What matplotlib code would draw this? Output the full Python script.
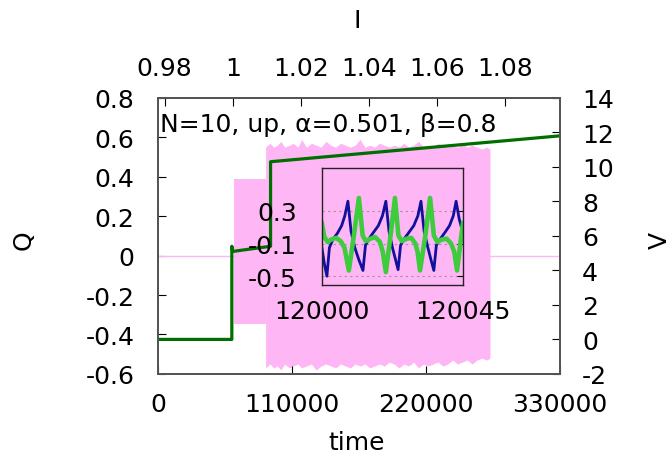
import numpy as np
import matplotlib
matplotlib.use("Agg")
import matplotlib.pyplot as plt

plt.rcParams['font.family'] = ['DejaVu Sans']
plt.rcParams['axes.unicode_minus'] = False

# --- main plot data ---
# Q oscillation envelope (pink), first plateau then larger band
band1_t = [62200, 88400]
band1_hi = [0.39, 0.39]
band1_lo = [-0.345, -0.345]

band2_t = [88400, 92000, 95000, 98000, 101000, 104000, 108000, 111000,
           115000, 118000, 122000, 126000, 130000, 134000, 138000, 142000,
           146000, 150000, 154000, 158000, 162000, 166000, 170000, 174000,
           178000, 182000, 186000, 190000, 194000, 198000, 202000, 206000,
           210000, 214000, 218000, 222000, 226000, 230000, 234000, 238000,
           242000, 246000, 250000, 254000, 258000, 262000, 266000, 270000,
           272700]
band2_hi = [0.55, 0.57, 0.55, 0.56, 0.58, 0.55, 0.56, 0.57, 0.55, 0.59,
            0.55, 0.57, 0.56, 0.55, 0.58, 0.56, 0.55, 0.57, 0.56, 0.55,
            0.56, 0.59, 0.55, 0.56, 0.55, 0.57, 0.56, 0.55, 0.56, 0.55,
            0.57, 0.55, 0.56, 0.58, 0.55, 0.56, 0.55, 0.57, 0.56, 0.55,
            0.56, 0.55, 0.57, 0.55, 0.56, 0.55, 0.54, 0.55, 0.54]
band2_lo = [-0.57, -0.55, -0.57, -0.56, -0.58, -0.55, -0.57, -0.56, -0.55,
            -0.57, -0.56, -0.55, -0.58, -0.56, -0.55, -0.56, -0.57, -0.55,
            -0.56, -0.57, -0.55, -0.56, -0.55, -0.57, -0.56, -0.55, -0.56,
            -0.54, -0.55, -0.57, -0.55, -0.56, -0.54, -0.57, -0.55, -0.56,
            -0.55, -0.54, -0.56, -0.55, -0.53, -0.55, -0.54, -0.53, -0.55,
            -0.53, -0.52, -0.53, -0.52]

q_line_t = [0, 330000]
q_line = [0, 0]

# V (right axis), dark green
v_t = [0, 60700, 60700, 61500, 92500, 92500, 330000]
v_val = [0, 0, 5.4, 5.1, 5.4, 10.3, 11.8]

# top axis I ticks
i_ticks = [0.98, 1.0, 1.02, 1.04, 1.06, 1.08]
i_labels = ["0.98", "1", "1.02", "1.04", "1.06", "1.08"]

# --- inset data (time offset from 120000) ---
blue_t = [0.0, 0.8, 1.6, 2.4, 3.5, 5.0, 6.3, 7.3, 8.3, 9.3, 10.5, 11.8,
          13.1, 13.9, 15.0, 16.5, 18.0, 19.3, 20.4, 21.4, 22.5, 23.5,
          24.3, 25.1, 26.3, 27.8, 29.3, 30.6, 31.6, 32.6, 33.8, 34.8,
          35.7, 36.5, 37.8, 39.3, 40.7, 41.9, 42.8, 43.8, 44.5, 45.0]
blue_q = [-0.15, -0.35, -0.50, -0.15, -0.05, 0.03, 0.12, 0.24, 0.42, 0.05,
          -0.15, -0.30, -0.43, -0.12, -0.04, 0.04, 0.12, 0.24, 0.42, 0.05,
          -0.15, -0.30, -0.42, -0.12, -0.04, 0.04, 0.12, 0.24, 0.42, 0.05,
          -0.15, -0.30, -0.43, -0.12, -0.04, 0.04, 0.12, 0.24, 0.42, 0.20,
          0.10, 0.05]

green_t = [0.0, 0.8, 1.8, 3.0, 4.5, 6.0, 7.2, 8.6, 10.2, 11.8, 13.0, 14.0,
           15.5, 17.0, 18.5, 19.4, 20.4, 21.9, 23.3, 24.4, 25.5, 27.0,
           28.5, 29.8, 30.5, 31.3, 33.0, 34.5, 35.7, 36.8, 38.3, 39.8,
           41.2, 42.2, 43.1, 44.3, 45.0]
green_q = [0.15, -0.02, -0.08, -0.05, -0.03, -0.07, -0.15, -0.43, 0.0, 0.46,
           0.0, -0.07, -0.04, -0.02, -0.08, -0.20, -0.45, 0.0, 0.46, 0.0,
           -0.07, -0.04, -0.03, -0.10, -0.20, -0.43, 0.0, 0.46, 0.0, -0.08,
           -0.05, -0.04, -0.10, -0.20, -0.43, -0.05, 0.15]

pink = "#ffb6f5"
frame = "#555555"
fs = 18

fig = plt.figure(figsize=(6.72, 4.6), dpi=100)
ax = fig.add_axes([0.235, 0.185, 0.598, 0.600])

ax.fill_between(band1_t, band1_lo, band1_hi, color=pink, lw=0)
ax.fill_between(band2_t, band2_lo, band2_hi, color=pink, lw=0)
ax.plot(q_line_t, q_line, color=pink, lw=1)
ax.set_xlim(0, 330000)
ax.set_ylim(-0.6, 0.8)
ax.set_xticks([0, 110000, 220000, 330000])
ax.set_xticklabels(["0", "110000", "220000", "330000"])
ax.set_yticks([-0.6, -0.4, -0.2, 0, 0.2, 0.4, 0.6, 0.8])
ax.set_yticklabels(["-0.6", "-0.4", "-0.2", "0", "0.2", "0.4", "0.6", "0.8"])
ax.tick_params(axis="x", direction="in", length=6, color="black",
               labelsize=fs, pad=13, top=True)
ax.tick_params(axis="y", direction="in", length=6, color="black",
               labelsize=fs, pad=17, right=True)
ax.text(0.005, 0.906, "N=10, up, α=0.501, β=0.8", transform=ax.transAxes,
        fontsize=fs, ha="left", va="center")

# right axis V
axr = ax.twinx()
axr.plot(v_t, v_val, color="#006f00", lw=2.3)
axr.set_ylim(-2, 14)
axr.set_yticks([-2, 0, 2, 4, 6, 8, 10, 12, 14])
axr.tick_params(axis="y", direction="in", length=6, labelsize=fs, pad=16)

# top axis I
axt = ax.twiny()
axt.set_xlim(0.978, 1.096)
axt.set_xticks(i_ticks)
axt.set_xticklabels(i_labels)
axt.tick_params(axis="x", direction="in", length=6, labelsize=fs, pad=13)

for a in (ax, axr, axt):
    for s in a.spines.values():
        s.set_color(frame)
        s.set_linewidth(1.2)

fig.text(24 / 672, 1 - 240 / 460, "Q", rotation=90, fontsize=fs,
         ha="center", va="center")
fig.text(660 / 672, 1 - 240 / 460, "V", rotation=90, fontsize=fs,
         ha="center", va="center")
fig.text(357 / 672, 1 - 21 / 460, "I", fontsize=fs, ha="center", va="center")
fig.text(357 / 672, 1 - 443 / 460, "time", fontsize=fs, ha="center",
         va="center")

# inset
axi = fig.add_axes([0.479, 0.378, 0.210, 0.255])
axi.patch.set_alpha(0)
axi.plot([120000 + t for t in blue_t], blue_q, color="#10109a", lw=2)
axi.plot([120000 + t for t in green_t], green_q, color="#3ccc3c", lw=3.3)
axi.set_xlim(120000, 120045)
axi.set_ylim(-0.61, 0.83)
axi.set_xticks([120000, 120045])
axi.set_xticklabels(["120000", "120045"])
axi.set_yticks([0.3, -0.1, -0.5])
axi.set_yticklabels(["0.3", "-0.1", "-0.5"])
axi.grid(axis="y", color="#999999", ls=(0, (2, 3)), lw=0.8)
axi.tick_params(axis="x", direction="in", length=0, labelsize=fs, pad=10)
axi.tick_params(axis="y", direction="in", length=4, labelsize=fs, pad=18,
                left=False, right=True)
for s in axi.spines.values():
    s.set_color("#222222")
    s.set_linewidth(1.0)

fig.savefig("out.png", dpi=100)
